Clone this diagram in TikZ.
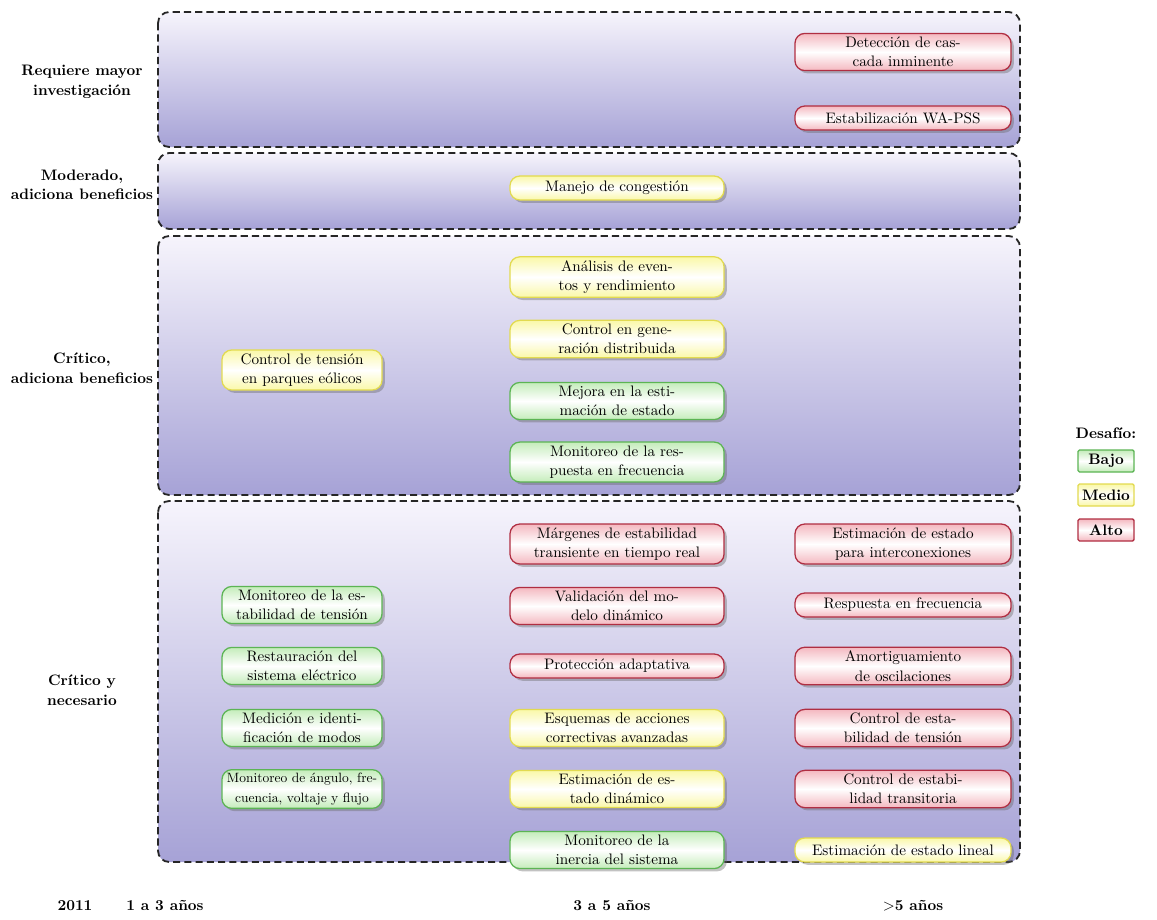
\documentclass[tikz,border=0pt]{standalone}
\usetikzlibrary{shadows}

\definecolor{lavanda}{RGB}{166,162,214}
\definecolor{lavclaro}{RGB}{246,244,252}
\definecolor{verdeb}{RGB}{92,180,84}
\definecolor{verdef}{RGB}{196,236,186}
\definecolor{amarb}{RGB}{226,218,80}
\definecolor{amarf}{RGB}{250,248,168}
\definecolor{rojob}{RGB}{176,46,66}
\definecolor{rojof}{RGB}{244,184,192}

\newcommand{\tam}{\fontsize{10.8}{13.8}\selectfont}

\tikzset{
  panel/.style={draw=black!85, line width=1.3pt, dash pattern=on 5pt off 3pt,
    rounded corners=8pt, top color=lavclaro, bottom color=lavanda},
  reto/.style={rounded corners=7pt, line width=0.9pt, align=center, font=\tam,
    inner xsep=3pt, inner ysep=2.5pt, minimum height=0.6cm,
    drop shadow={shadow xshift=2pt, shadow yshift=-2pt, fill=black!60, opacity=0.4}},
  bajo/.style={reto, draw=verdeb, top color=verdef, bottom color=verdef, middle color=white},
  medio/.style={reto, draw=amarb, top color=amarf, bottom color=amarf, middle color=white},
  alto/.style={reto, draw=rojob, top color=rojof, bottom color=rojof, middle color=white},
  col1/.style={minimum width=4cm},
  col2/.style={minimum width=5.35cm},
  col3/.style={minimum width=5.4cm},
  nivel/.style={font=\tam\bfseries, align=center},
  plazo/.style={font=\tam\bfseries},
  leyenda/.style={rounded corners=1pt, font=\tam\bfseries, minimum width=1.4cm,
    minimum height=0.55cm, inner sep=2pt, line width=0.9pt}
}

\begin{document}
\begin{tikzpicture}[x=0.025cm, y=-0.025cm]
  \useasboundingbox (0,0) rectangle (1157,920);

  % franjas de prioridad
  \draw[panel] (158,12) rectangle (1020,147);
  \draw[panel] (158,153) rectangle (1020,229);
  \draw[panel] (158,236) rectangle (1020,495);
  \draw[panel] (158,501) rectangle (1020,862);

  % niveles
  \node[nivel] (n1) at (82,82) {Requiere mayor\\investigaci\'on};
  \node[nivel] (n2) at (82,185) {Moderado,\\adiciona beneficios};
  \node[nivel] (n3) at (82,368) {Cr\'itico,\\adiciona beneficios};
  \node[nivel] (n4) at (82,690) {Cr\'itico y\\necesario};

  % primera franja
  \node[alto, col3] (dci) at (903,52) {Detecci\'on de cas-\\cada inminente};
  \node[alto, col3] (wapss) at (903,118) {Estabilizaci\'on WA-PSS};

  % segunda franja
  \node[medio, col2] (cong) at (617,188) {Manejo de congesti\'on};

  % tercera franja
  \node[medio, col1] (eol) at (302,370) {Control de tensi\'on\\en parques e\'olicos};
  \node[medio, col2] (ev) at (617,277) {An\'alisis de even-\\tos y rendimiento};
  \node[medio, col2] (gd) at (617,339) {Control en gene-\\raci\'on distribuida};
  \node[bajo, col2] (me) at (617,401) {Mejora en la esti-\\maci\'on de estado};
  \node[bajo, col2] (mrf) at (617,462) {Monitoreo de la res-\\puesta en frecuencia};

  % cuarta franja
  \node[bajo, col1] (met) at (302,605) {Monitoreo de la es-\\tabilidad de tensi\'on};
  \node[bajo, col1] (rse) at (302,666) {Restauraci\'on del\\sistema el\'ectrico};
  \node[bajo, col1] (mim) at (302,728) {Medici\'on e identi-\\ficaci\'on de modos};
  \node[bajo, col1, font=\fontsize{9.6}{13.8}\selectfont, inner xsep=1pt] (maf) at (302,789) {Monitoreo de \'angulo, fre-\\cuencia, voltaje y flujo};

  \node[alto, col2] (mee) at (617,544) {M\'argenes de estabilidad\\transiente en tiempo real};
  \node[alto, col2] (vmd) at (617,606) {Validaci\'on del mo-\\delo din\'amico};
  \node[alto, col2] (pa) at (617,666) {Protecci\'on adaptativa};
  \node[medio, col2] (eac) at (617,728) {Esquemas de acciones\\correctivas avanzadas};
  \node[medio, col2] (eed) at (617,789) {Estimaci\'on de es-\\tado din\'amico};
  \node[bajo, col2] (mis) at (617,850) {Monitoreo de la\\inercia del sistema};

  \node[alto, col3] (eei) at (903,544) {Estimaci\'on de estado\\para interconexiones};
  \node[alto, col3] (rf) at (903,605) {Respuesta en frecuencia};
  \node[alto, col3] (ao) at (903,666) {Amortiguamiento\\de oscilaciones};
  \node[alto, col3] (cet) at (903,728) {Control de esta-\\bilidad de tensi\'on};
  \node[alto, col3] (ctr) at (903,789) {Control de estabi-\\lidad transitoria};
  \node[medio, col3] (eel) at (903,850) {Estimaci\'on de estado lineal};

  % plazos
  \node[plazo] (t0) at (75,906) {2011};
  \node[plazo] (t1) at (165,906) {1 a 3 a\~nos};
  \node[plazo] (t2) at (612,906) {3 a 5 a\~nos};
  \node[plazo] (t3) at (913,906) {$>$5 a\~nos};

  % leyenda
  \node[font=\tam\bfseries] (des) at (1106,433) {Desaf\'io:};
  \node[leyenda, draw=verdeb, top color=verdef, bottom color=verdef, middle color=white] (lb) at (1106,461) {Bajo};
  \node[leyenda, draw=amarb, top color=amarf, bottom color=amarf, middle color=white] (lm) at (1106,495) {Medio};
  \node[leyenda, draw=rojob, top color=rojof, bottom color=rojof, middle color=white] (la) at (1106,530) {Alto};
\end{tikzpicture}
\end{document}
